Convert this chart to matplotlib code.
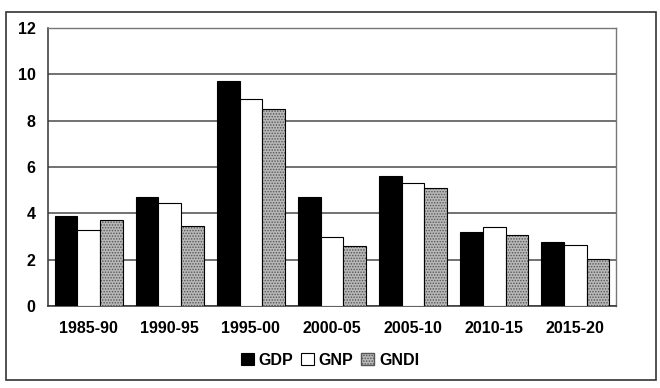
import matplotlib.pyplot as plt
from matplotlib.patches import Rectangle
import numpy as np

plt.rcParams['font.family'] = ['Liberation Sans', 'DejaVu Sans']
plt.rcParams['font.weight'] = 'bold'

periods = ['1985-90', '1990-95', '1995-00', '2000-05', '2005-10', '2010-15', '2015-20']
gdp = [3.9, 4.7, 9.7, 4.7, 5.6, 3.2, 2.75]
gnp = [3.3, 4.45, 8.95, 3.0, 5.3, 3.4, 2.65]
gndi = [3.7, 3.45, 8.5, 2.6, 5.1, 3.05, 2.05]

fig = plt.figure(figsize=(6.6, 3.88), dpi=100)
ax = fig.add_axes([0.073, 0.211, 0.86, 0.717])

# outer frame of the whole chart
fig.patches.append(Rectangle((0.009, 0.02), 0.985, 0.948, transform=fig.transFigure,
                             fill=False, edgecolor='#333333', linewidth=1.2))

x = np.arange(len(periods))
w = 0.28
ax.bar(x - w, gdp, w, color='black', edgecolor='black', linewidth=0.8, label='GDP', zorder=3)
ax.bar(x, gnp, w, color='white', edgecolor='black', linewidth=0.8, label='GNP', zorder=3)
plt.rcParams['hatch.linewidth'] = 0.7
ax.bar(x + w, gndi, w, color='#b8b8b8', edgecolor='#555555', hatch='......', linewidth=0, zorder=3)
ax.bar(x + w, gndi, w, fill=False, edgecolor='black', linewidth=0.8, zorder=4)
# proxy for legend
ax.bar([0], [0], 0, color='#b8b8b8', edgecolor='#555555', hatch='......', label='GNDI')

ax.set_xlim(-0.5, len(periods) - 0.5)
ax.set_ylim(0, 12)
ax.set_yticks(np.arange(0, 13, 2))
ax.set_xticks(x)
ax.set_xticklabels(periods)
ax.yaxis.grid(True, color='#4a4a4a', linewidth=1.1, zorder=0)
ax.set_axisbelow(True)
ax.tick_params(axis='x', length=0, pad=11, labelsize=11.5)
ax.tick_params(axis='y', length=0, pad=9, labelsize=11.5)
for s in ['left', 'bottom']:
    ax.spines[s].set_color('#333333')
    ax.spines[s].set_linewidth(1.1)
for s in ['top', 'right']:
    ax.spines[s].set_color('#777777')
    ax.spines[s].set_linewidth(1.0)

fig.legend(loc='center', bbox_to_anchor=(0.5, 0.072), ncol=3, frameon=False,
           handlelength=0.8, handleheight=0.8, columnspacing=0.5, handletextpad=0.3,
           prop={'size': 11.5, 'weight': 'bold'})

fig.savefig('out.png', dpi=100)
